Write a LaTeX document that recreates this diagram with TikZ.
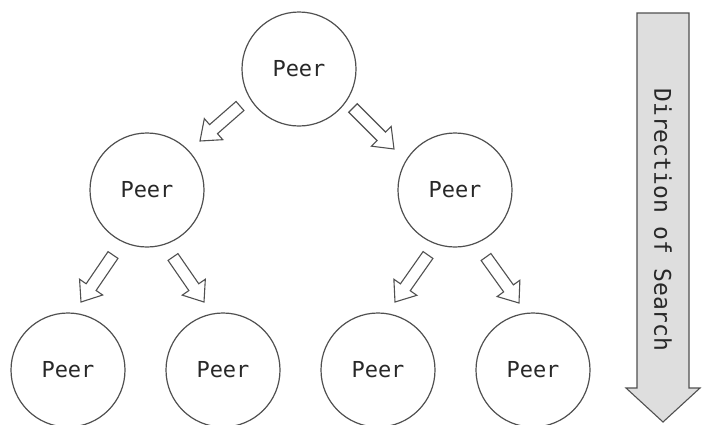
\documentclass[tikz,border=0pt]{standalone}
\usepackage{fontspec}
\newfontfamily\peerfont{DejaVu Sans Mono}
\usetikzlibrary{calc}

\definecolor{inkgray}{RGB}{80,80,80}
\definecolor{textgray}{RGB}{40,40,40}
\definecolor{shaftfill}{RGB}{222,222,222}

% hollow block arrow from a tail coordinate to a tip coordinate
\newcommand\hollowarrow[2]{%
  \coordinate (neck) at ($(#2)!18pt!(#1)$);
  \draw[hollowline]
    ($(#1)!6pt!90:(#2)$) --
    ($(neck)!6pt!-90:(#1)$) --
    ($(neck)!14pt!-90:(#1)$) --
    (#2) --
    ($(neck)!14pt!90:(#1)$) --
    ($(neck)!6pt!90:(#1)$) --
    ($(#1)!6pt!-90:(#2)$) -- cycle;
}

\begin{document}
\begin{tikzpicture}[x=1pt,y=-1pt,
  peer/.style={circle, draw=inkgray, line width=1.2pt, minimum size=114pt,
    inner sep=0pt, text=textgray, font=\peerfont\fontsize{22}{24}\selectfont},
  hollowline/.style={draw=inkgray, line width=1.1pt, fill=white, line join=miter}]
\useasboundingbox (0,0) rectangle (702,424);
\fill[white] (0,0) rectangle (702,424);

% peers of the search tree
\node[peer] (root) at (299,69)  {Peer};
\node[peer] (ml)   at (147,190) {Peer};
\node[peer] (mr)   at (455,190) {Peer};
\node[peer] (b1)   at (68,370)  {Peer};
\node[peer] (b2)   at (223,370) {Peer};
\node[peer] (b3)   at (378,370) {Peer};
\node[peer] (b4)   at (533,370) {Peer};

% arrow ends between the levels
\coordinate (r-l-tail) at (240,106); \coordinate (r-l-tip) at (200,141);
\coordinate (r-r-tail) at (353,108); \coordinate (r-r-tip) at (394,149);
\coordinate (ml-1-tail) at (113,255); \coordinate (ml-1-tip) at (81,302);
\coordinate (ml-2-tail) at (173,257); \coordinate (ml-2-tip) at (204,302);
\coordinate (mr-1-tail) at (428,255); \coordinate (mr-1-tip) at (395,302);
\coordinate (mr-2-tail) at (486,257); \coordinate (mr-2-tip) at (519,303);

\hollowarrow{r-l-tail}{r-l-tip}
\hollowarrow{r-r-tail}{r-r-tip}
\hollowarrow{ml-1-tail}{ml-1-tip}
\hollowarrow{ml-2-tail}{ml-2-tip}
\hollowarrow{mr-1-tail}{mr-1-tip}
\hollowarrow{mr-2-tail}{mr-2-tip}

% direction of search
\draw[draw=inkgray, line width=1.1pt, fill=shaftfill, line join=miter]
  (637,13) -- (689,13) -- (689,388) -- (700,388) -- (663,422)
  -- (626,388) -- (637,388) -- cycle;
\node[rotate=-90, text=textgray, font=\peerfont\fontsize{23}{25}\selectfont]
  (dir) at (663,220) {Direction of Search};
\end{tikzpicture}
\end{document}
